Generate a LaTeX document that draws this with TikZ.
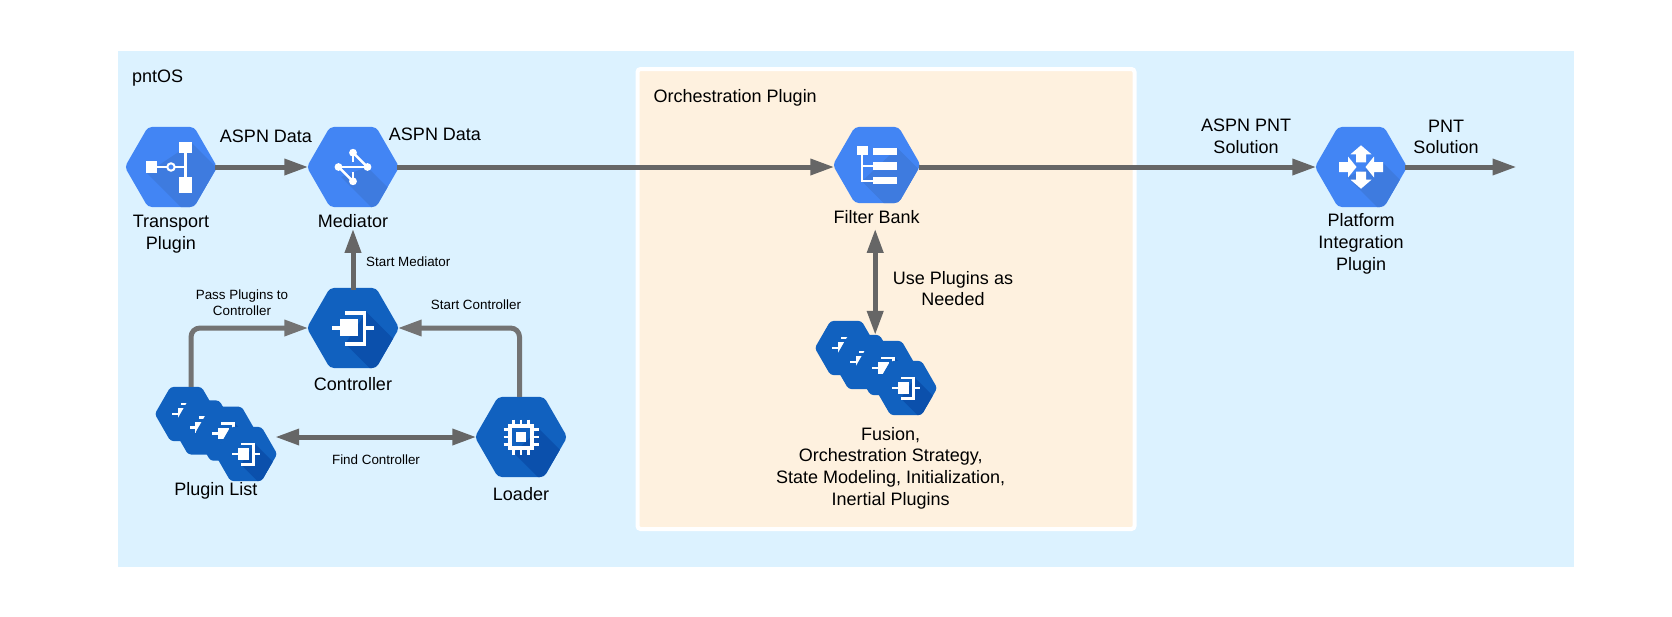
\documentclass[tikz,border=0pt]{standalone}
\usepackage{fontspec}
\setmainfont{Liberation Sans}
\usetikzlibrary{arrows.meta,shapes.geometric,positioning}

\definecolor{panelblue}{HTML}{DCF2FF}
\definecolor{pluginfill}{HTML}{FEF1DF}
\definecolor{hexblue}{HTML}{4285F4}
\definecolor{shadeblue}{HTML}{3E7BDF}
\definecolor{hexdark}{HTML}{1161BF}
\definecolor{shadedark}{HTML}{0B50AC}
\definecolor{flowgray}{HTML}{666666}
\definecolor{bentgray}{HTML}{737373}

\newcommand{\hexshade}[3]{%
	\begin{scope}[shift={(path picture bounding box.center)}]
		\fill[#3, sharp corners] (#1) -- +(90,90) -- ([shift={(90,90)}]#2) -- (#2) -- cycle;
	\end{scope}}

\tikzset{
	hexnode/.style={regular polygon, regular polygon sides=6, minimum size=92.4pt, inner sep=0pt, outer sep=0pt, rounded corners=4pt},
	lighthex/.style 2 args={hexnode, fill=hexblue, path picture={\hexshade{#1}{#2}{shadeblue}}},
	darkhex/.style 2 args={hexnode, fill=hexdark, path picture={\hexshade{#1}{#2}{shadedark}}},
	smallhex/.style={darkhex={8.9,-10.2}{-5.1,10.5}, minimum size=62.4pt, rounded corners=3pt},
	biglabel/.style={align=center, inner sep=1pt, font=\fontsize{18}{21.7}\selectfont},
	smalllabel/.style={align=center, inner sep=1pt, font=\fontsize{13.4}{16}\selectfont},
	flow/.style={line width=5pt, draw=flowgray, shorten <=-2pt, shorten >=-1.5pt, -{Triangle[length=24pt,width=15.5pt]}},
	bothflow/.style={flow, {Triangle[length=24pt,width=15.5pt]}-{Triangle[length=24pt,width=15.5pt]}},
	bentflow/.style={flow, draw=bentgray, rounded corners=9pt},
	pics/transporticon/.style={code={
		\fill[white] (-25.3,-5.8) rectangle (-13.7,5.8);
		\fill[white] (8,-25) rectangle (21,-14);
		\fill[white] (8,10) rectangle (21,25.5);
		\draw[white, line width=2pt] (-14,0) -- (14.5,0);
		\draw[white, line width=2.5pt] (14.5,-14) -- (14.5,10);
		\draw[white, line width=2pt, fill=hexblue] (0,0) circle (3.7);
	}},
	pics/mediatoricon/.style={code={
		\draw[white, line width=1.3pt] (-14.5,0) -- (14.5,0) (0,-14.3) -- (0,-5) (0,14.3) -- (0,5);
		\draw[white, line width=2.5pt] (0,-14.3) -- (14.5,0) (-14.5,0) -- (0,14.3);
		\fill[white] (0,-14.3) circle (3.9) (0,14.3) circle (3.9) (-14.5,0) circle (3.9) (14.5,0) circle (3.9);
	}},
	pics/controllericon/.style={code={
		\fill[white] (-12.7,-8.7) rectangle (5,8.3);
		\fill[white] (-21,-2) rectangle (-12.7,2);
		\fill[white] (-7.7,-17) rectangle (13.3,-13.3);
		\fill[white] (-7.7,13.8) rectangle (13.3,17.5);
		\fill[white] (9.6,-17) rectangle (13.3,17.5);
		\fill[white] (13.3,-2) rectangle (21,2);
	}},
	pics/loadericon/.style={code={
		\draw[white, line width=3.3pt] (-11,-11) rectangle (11,11);
		\fill[white] (-5,-5) rectangle (5,5);
		\draw[white, line width=2.6pt]
			(-7.5,-17.5) -- (-7.5,-12) (0,-17.5) -- (0,-12) (7.5,-17.5) -- (7.5,-12)
			(-7.5,17.5) -- (-7.5,12) (0,17.5) -- (0,12) (7.5,17.5) -- (7.5,12)
			(-17.5,-7.5) -- (-12,-7.5) (-17.5,0) -- (-12,0) (-17.5,7.5) -- (-12,7.5)
			(17.5,-7.5) -- (12,-7.5) (17.5,0) -- (12,0) (17.5,7.5) -- (12,7.5);
	}},
	pics/filtericon/.style={code={
		\fill[white] (-19.7,-19) rectangle (-9,-9.7);
		\fill[white] (-4,-17) rectangle (20.7,-9.7);
		\fill[white] (-4,-2.7) rectangle (20.7,4.7);
		\fill[white] (-4,12) rectangle (20.7,19.3);
		\draw[white, line width=1.7pt] (-14.7,-9.7) -- (-14.7,15.7) -- (-4,15.7) (-14.7,1) -- (-4,1);
	}},
	pics/platformicon/.style={code={
		\fill[white] (0,-21.7) -- (10.5,-12.7) -- (5,-12.7) -- (5,-4.7) -- (-5,-4.7) -- (-5,-12.7) -- (-10.5,-12.7) -- cycle;
		\fill[white] (0,21.7) -- (10.5,12.7) -- (5,12.7) -- (5,4.7) -- (-5,4.7) -- (-5,12.7) -- (-10.5,12.7) -- cycle;
		\fill[white] (-4.5,0) -- (-13,10.5) -- (-13,5) -- (-22,5) -- (-22,-5) -- (-13,-5) -- (-13,-10.5) -- cycle;
		\fill[white] (4.5,0) -- (13,10.5) -- (13,5) -- (22,5) -- (22,-5) -- (13,-5) -- (13,-10.5) -- cycle;
	}},
}

\begin{document}
\begin{tikzpicture}[x=1pt, y=-1pt]
	\useasboundingbox (0,0) rectangle (1672,616);

	\node[fill=panelblue, minimum width=1456pt, minimum height=516pt, inner sep=0pt] (pntos) at (846,309) {};
	\node[fill=pluginfill, draw=white, line width=4pt, rounded corners=3pt, minimum width=497pt, minimum height=460pt, inner sep=0pt] (orchestration) at (886,299) {};
	\node[biglabel, anchor=west] (pntoslabel) at (131,78) {pntOS};
	\node[biglabel, anchor=west] (orchlabel) at (652.5,98) {Orchestration Plugin};

	\node[lighthex={21,-24}{-24,6}] (transport) at (171,167) {};
	\pic at (transport) {transporticon};
	\node[lighthex={14,0}{-12,10}] (mediator) at (353,167) {};
	\pic at (mediator) {mediatoricon};
	\node[darkhex={13.3,-16}{-7.7,15.7}] (controller) at (353,328) {};
	\pic at (controller) {controllericon};
	\node[darkhex={18,-8}{-7,16}] (loader) at (521,437) {};
	\pic at (loader) {loadericon};
	\node[lighthex={20.7,-17}{-14.7,16.3}, minimum size=87.8pt] (filter) at (876.7,165) {};
	\pic at (filter) {filtericon};
	\node[lighthex={21.7,-4.3}{-14,10}] (platform) at (1361,167) {};
	\pic at (platform) {platformicon};

	\node[smallhex] (plugina) at (186,414) {};
	\pic[scale=.667] at (plugina) {controllericon};
	\node[smallhex] (pluginb) at (203.7,427.5) {};
	\pic[scale=.667] at (pluginb) {controllericon};
	\node[smallhex] (pluginc) at (226,433.7) {};
	\pic[scale=.667] at (pluginc) {controllericon};
	\node[smallhex] (plugind) at (246,454) {};
	\pic[scale=.667] at (plugind) {controllericon};

	\node[smallhex] (fusiona) at (846,348) {};
	\pic[scale=.667] at (fusiona) {controllericon};
	\node[smallhex] (fusionb) at (864,362) {};
	\pic[scale=.667] at (fusionb) {controllericon};
	\node[smallhex] (fusionc) at (886,368) {};
	\pic[scale=.667] at (fusionc) {controllericon};
	\node[smallhex] (fusiond) at (906,388) {};
	\pic[scale=.667] at (fusiond) {controllericon};

	\node[biglabel] (transportlabel) at (171,234) {Transport\\Plugin};
	\node[biglabel] (mediatorlabel) at (353,221) {Mediator};
	\node[biglabel] (controllerlabel) at (353,384) {Controller};
	\node[biglabel] (pluginlabel) at (216,491) {Plugin List};
	\node[biglabel] (loaderlabel) at (521,494) {Loader};
	\node[biglabel] (filterlabel) at (876.7,217) {Filter Bank};
	\node[biglabel] (fusionlabel) at (890.7,468) {Fusion,\\Orchestration Strategy,\\State Modeling, Initialization,\\Inertial Plugins};
	\node[biglabel] (platformlabel) at (1361,244) {Platform\\Integration\\Plugin};

	\node[biglabel] (aspnone) at (266,136) {ASPN Data};
	\node[biglabel] (aspntwo) at (435,134.5) {ASPN Data};
	\node[biglabel] (aspnpnt) at (1246,136.5) {ASPN PNT\\Solution};
	\node[biglabel] (pntsol) at (1446,137) {PNT\\Solution};
	\node[biglabel] (useplugins) at (953,288.5) {Use Plugins as\\Needed};
	\node[smalllabel, anchor=west] (startmed) at (365,262) {Start Mediator};
	\node[smalllabel] (passplugins) at (242,303) {Pass Plugins to\\Controller};
	\node[smalllabel] (startctrl) at (476,305) {Start Controller};
	\node[smalllabel] (findctrl) at (376,460) {Find Controller};

	\coordinate (solutionend) at (1515,167);

	\draw[flow] (transport.east) -- (mediator.west);
	\draw[flow] (mediator.east) -- (filter.west |- mediator.east);
	\draw[flow] (filter.east |- platform.west) -- (platform.west);
	\draw[flow] (platform.east) -- (solutionend);
	\draw[flow, shorten >=0pt] (controller.north) -- (mediatorlabel.south);
	\draw[bentflow, shorten <=0pt] ([xshift=5pt]plugina.north) |- (controller.west);
	\draw[bentflow, shorten <=0pt] ([xshift=-1.5pt]loader.north) |- (controller.east);
	\draw[bothflow] (plugind.east |- loader.west) -- (loader.west);
	\draw[bothflow, shorten <=4pt, shorten >=0pt] ([xshift=-1.5pt]filterlabel.south) -- ([xshift=-1.5pt]filterlabel.south |- fusionb.north);
\end{tikzpicture}
\end{document}
